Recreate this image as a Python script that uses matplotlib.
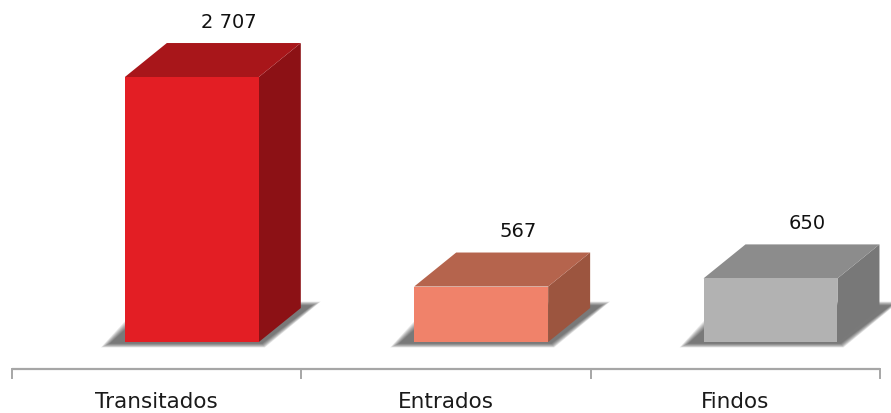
import matplotlib
matplotlib.use("Agg")
import matplotlib.pyplot as plt
from matplotlib.patches import Polygon

# ---- data ----
categories = ["Transitados", "Entrados", "Findos"]
values = [2707, 567, 650]
value_labels = ["2 707", "567", "650"]

# ---- styles ----
front_colors = ["#E31E24", "#F0826A", "#B2B2B2"]
top_colors = ["#A8161A", "#B5644D", "#8C8C8C"]
side_colors = ["#8C1115", "#9C553F", "#787878"]

W, H, DPI = 891, 414, 100
fig = plt.figure(figsize=(W / DPI, H / DPI), dpi=DPI)
ax = fig.add_axes([0, 0, 1, 1])
ax.set_axis_off()

XL = (-0.5415, 2.538)
YL = (-725, 3504)
ax.set_xlim(*XL)
ax.set_ylim(*YL)
ux = (XL[1] - XL[0]) / W
uy = (YL[1] - YL[0]) / H

front_off = -0.11
front_w = 0.463
depth_x = 42 * ux
depth_y = 34 * uy

# soft shadows
for i, v in enumerate(values):
    x0 = i + front_off
    x1 = x0 + front_w
    n = 9
    for k in range(n):
        grow = (n - k) * 1.1
        ex_l = (14 + grow) * ux
        ex_r = (10 + grow) * ux
        ey_b = (1 + grow * 0.45) * uy
        ey_t = (2 + grow * 0.45) * uy
        poly = [
            (x0 - ex_l, -ey_b),
            (x1 + ex_r * 0.3, -ey_b),
            (x1 + depth_x + ex_r, depth_y + ey_t),
            (x0 + depth_x - ex_l, depth_y + ey_t),
        ]
        ax.add_patch(Polygon(poly, closed=True, facecolor="#2A2A2A",
                             edgecolor="none", alpha=0.1, zorder=1))

# 3D bars
for i, v in enumerate(values):
    x0 = i + front_off
    x1 = x0 + front_w
    front = [(x0, 0), (x1, 0), (x1, v), (x0, v)]
    top = [(x0, v), (x1, v), (x1 + depth_x, v + depth_y), (x0 + depth_x, v + depth_y)]
    side = [(x1, 0), (x1 + depth_x, depth_y), (x1 + depth_x, v + depth_y), (x1, v)]
    ax.add_patch(Polygon(side, closed=True, facecolor=side_colors[i], edgecolor="none", zorder=3))
    ax.add_patch(Polygon(top, closed=True, facecolor=top_colors[i], edgecolor="none", zorder=3))
    ax.add_patch(Polygon(front, closed=True, facecolor=front_colors[i], edgecolor="none", zorder=4))
    ax.text(x0 + front_w / 2 + 37 * ux, v + depth_y + 22 * uy, value_labels[i],
            ha="center", va="center", fontsize=14, color="#111111",
            family="DejaVu Sans", zorder=5)

# category axis
axis_y = -27 * uy
ax.plot([-0.5, len(categories) - 0.5], [axis_y, axis_y], color="#A6A6A6", lw=1.6,
        solid_capstyle="butt", zorder=2)
for t in range(len(categories) + 1):
    ax.plot([t - 0.5, t - 0.5], [axis_y, axis_y - 9 * uy], color="#A6A6A6", lw=1.4, zorder=2)
for i, c in enumerate(categories):
    ax.text(i, axis_y - 32 * uy, c, ha="center", va="center", fontsize=15.5,
            color="#1A1A1A", family="DejaVu Sans")

fig.savefig("out.png", dpi=DPI)
